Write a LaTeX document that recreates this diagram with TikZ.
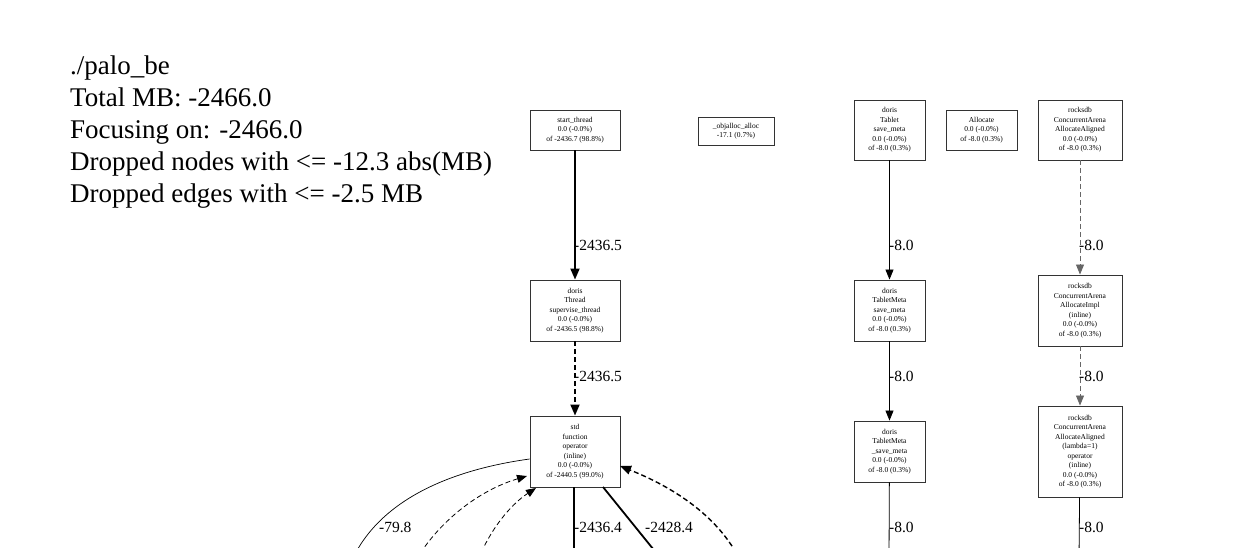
\documentclass[tikz,border=0pt]{standalone}
\usepackage{fontspec}
\setmainfont{Liberation Serif}
\usetikzlibrary{arrows.meta}
\begin{document}
\begin{tikzpicture}[x=1pt,y=-1pt,
  box/.style={draw=black!80,line width=0.9pt,inner sep=1pt,align=center,font=\fontsize{7.5}{9.5}\selectfont},
  e/.style={-{Triangle[length=10pt,width=8pt]},line width=0.8pt},
  ethick/.style={-{Triangle[length=11pt,width=9pt]},line width=1.8pt},
  dsh/.style={dash pattern=on 5pt off 3pt},
  ttl/.style={anchor=base west,font=\fontsize{27}{32}\selectfont,inner sep=0},
  lab/.style={font=\fontsize{15.5}{15.5}\selectfont,anchor=west,inner sep=1pt}]
\useasboundingbox (0,0) rectangle (1248,548);
\clip (0,0) rectangle (1248,548);
\node[ttl] (t1) at (70,75) {./palo\_be};
\node[ttl] (t2) at (70,107) {Total MB: -2466.0};
\node[ttl] (t3) at (70,139) {Focusing on: -2466.0};
\node[ttl] (t4) at (70,171) {Dropped nodes with <= -12.3 abs(MB)};
\node[ttl] (t5) at (70,203) {Dropped edges with <= -2.5 MB};
\node[box,minimum width=90,minimum height=40] (st) at (575,130) {start\_thread\\0.0 (-0.0\%)\\of -2436.7 (98.8\%)};
\node[box,minimum width=76,minimum height=28] (ob) at (736,131) {\_objalloc\_alloc\\-17.1 (0.7\%)};
\node[box,minimum width=71,minimum height=60] (tb) at (889.5,130) {doris\\Tablet\\save\_meta\\0.0 (-0.0\%)\\of -8.0 (0.3\%)};
\node[box,minimum width=71,minimum height=40] (al) at (981.5,130) {Allocate\\0.0 (-0.0\%)\\of -8.0 (0.3\%)};
\node[box,minimum width=84,minimum height=60] (r1) at (1080,130) {rocksdb\\ConcurrentArena\\AllocateAligned\\0.0 (-0.0\%)\\of -8.0 (0.3\%)};
\node[box,minimum width=90,minimum height=61] (sv) at (575,310.5) {doris\\Thread\\supervise\_thread\\0.0 (-0.0\%)\\of -2436.5 (98.8\%)};
\node[box,minimum width=71,minimum height=61] (tm) at (889.5,310.5) {doris\\TabletMeta\\save\_meta\\0.0 (-0.0\%)\\of -8.0 (0.3\%)};
\node[box,minimum width=84,minimum height=71] (r2) at (1080,310.5) {rocksdb\\ConcurrentArena\\AllocateImpl\\(inline)\\0.0 (-0.0\%)\\of -8.0 (0.3\%)};
\node[box,minimum width=90,minimum height=71] (sf) at (575,451.5) {std\\function\\operator\\(inline)\\0.0 (-0.0\%)\\of -2440.5 (99.0\%)};
\node[box,minimum width=71,minimum height=61] (sm) at (889.5,451.5) {doris\\TabletMeta\\\_save\_meta\\0.0 (-0.0\%)\\of -8.0 (0.3\%)};
\node[box,minimum width=84,minimum height=91] (r3) at (1080,451.5) {rocksdb\\ConcurrentArena\\AllocateAligned\\(lambda=1)\\operator\\(inline)\\0.0 (-0.0\%)\\of -8.0 (0.3\%)};
\coordinate (b1) at (574,560); \coordinate (b2) at (662,560);
\coordinate (c1) at (352,560); \coordinate (c2) at (416,560);
\coordinate (c3) at (478,560); \coordinate (c4) at (740,560);
\coordinate (b3) at (889,560); \coordinate (b4) at (1079,560);
\draw[ethick] (st) -- (sv);
\node[lab] at (573,245) {-2436.5};
\draw[ethick,dsh] (sv) -- (sf);
\node[lab] at (573,376) {-2436.5};
\draw[e] (tb) -- (tm);
\node[lab] at (888,245) {-8.0};
\draw[e] (tm) -- (sm);
\node[lab] at (888,376) {-8.0};
\draw[e,dsh,draw=black!60] (r1) -- (r2);
\node[lab] at (1078,245) {-8.0};
\draw[e,dsh,draw=black!60] (r2) -- (r3);
\node[lab] at (1078,376) {-8.0};
\draw[ethick,-] (sf.south -| b1) -- (b1);
\node[lab] at (573,527) {-2436.4};
\draw[ethick,-] (603,487) -- (b2);
\node[lab] at (644,527) {-2428.4};
\draw[line width=0.7pt] (sf.west |- 0,459) .. controls (450,470) and (380,500) .. (c1);
\node[lab] at (378,527) {-79.8};
\draw[e,dsh] (c2) .. controls (440,520) and (480,490) .. (527,476);
\draw[e,dsh] (c3) .. controls (490,530) and (510,505) .. (536,488);
\draw[ethick,dsh,line width=1.4pt] (c4) .. controls (720,520) and (680,490) .. (620,466);
\draw[line width=0.8pt] (sm) -- (b3);
\node[lab] at (888,527) {-8.0};
\draw[line width=0.8pt] (r3) -- (b4);
\node[lab] at (1078,527) {-8.0};
\end{tikzpicture}
\end{document}
